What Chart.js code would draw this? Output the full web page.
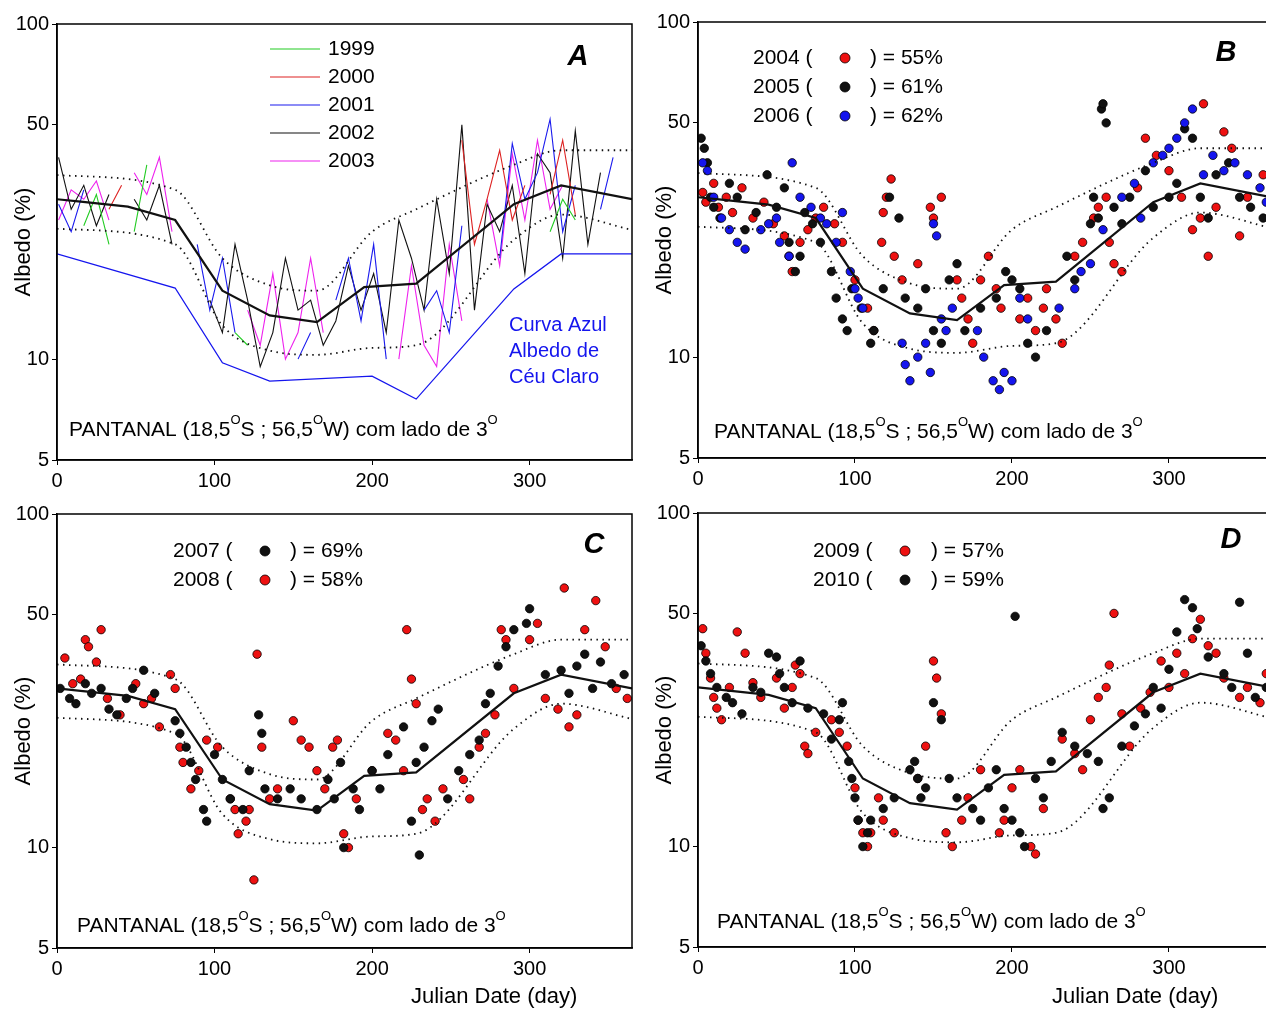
<!DOCTYPE html>
<html>
<head>
<meta charset="utf-8">
<script src="https://cdn.jsdelivr.net/npm/chart.js@4/dist/chart.umd.min.js"></script>
<style>
 body {margin:0; background:#fff; width:1266px; height:1012px; overflow:hidden; position:relative;}
 .panel {position:absolute;}
</style>
</head>
<body>
<div class="panel" style="left:0px;top:0px;width:640px;height:500px"><canvas id="pa"></canvas></div>
<div class="panel" style="left:641px;top:0px;width:640px;height:498px"><canvas id="pb"></canvas></div>
<div class="panel" style="left:0px;top:490px;width:640px;height:522px"><canvas id="pc"></canvas></div>
<div class="panel" style="left:641px;top:490px;width:640px;height:522px"><canvas id="pd"></canvas></div>
<script>
// ------------------------------------------------------------------ DATA

var days8   = [1,9,17,25,33,41,49,57,65,73,81,89,97,105,113,121,129,137,145,153,161,169,177,185,193,201,209,217,225,233,241,249,257,265,273,281,289,297,305,313,321,329,337,345,353,361];

var meanX   = [0,15,45,75,105,135,165,195,228,290,320,365];
var meanY   = [30,29.5,28.5,26,16,13.5,12.9,16.4,16.8,29,33,30];
var upperX  = [0,75,105,135,165,200,228,290,320,365];
var upperY  = [35.4,32,20,16.6,16,24,28,38,42,42];
var lowerX  = [0,75,105,135,165,200,228,290,320,365];
var lowerY  = [24.5,22,12.6,10.6,10.3,10.8,11,22.7,27,24.3];
var clearX  = [0,75,105,135,200,228,290,320,365];
var clearY  = [20.6,16.3,9.75,8.6,8.9,7.6,16.2,20.6,20.6];

var y1999 = [27,null,25,31,22,null,24,38,null,30,null,null,null,null,12,11,null,null,null,null,null,null,null,null,null,null,null,null,11,null,null,null,null,null,null,null,null,null,null,24,30,26,null,null,null,null];
var y2000 = [null,null,null,null,28,33,null,null,null,null,null,null,null,null,null,null,null,null,null,null,null,21,null,null,null,null,null,null,null,null,null,null,45,22,30,42,26,33,null,31,45,27,null,32,null,null];
var y2001 = [29,24,32,null,null,null,null,null,27,null,null,22,14,20,12,null,13,null,null,10,12,null,15,20,13,22,10,null,null,14,16,12,25,null,null,20,44,30,36,52,24,33,null,28,40,null];
var y2002 = [40,28,33,25,31,null,30,26,33,22,null,null,15,12,22,15,9.5,12,20,14,15,11,13,19,14,18,12,26,20,14,30,18,50,14,29,24,33,18,41,36,20,48,22,36,null,30];
var y2003 = [26,32,30,34,26,null,36,31,40,24,null,null,null,null,null,14,11,18,10,12,20,12,null,null,null,14,null,10,19,11,9.5,22,13,null,30,19,41,26,45,28,33,null,null,null,36,null];

var s2004 = [[3,31],[5,29],[10,33],[13,28],[18,30],[22,27],[28,32],[35,26],[42,29],[48,25],[55,23],[58,20],[60,18],[65,22],[70,24],[75,26],[80,28],[87,25],[92,22],[100,17],[108,14],[112,12],[117,22],[118,27],[120,30],[123,34],[125,20],[130,17],[140,19],[148,28],[150,26],[155,30],[165,17],[168,15],[172,13],[175,11],[180,17],[185,20],[190,16],[193,14],[205,13],[210,15],[215,12],[220,14],[222,16],[228,13],[232,11],[240,20],[245,22],[252,26],[255,28],[260,30],[262,22],[265,19],[270,18],[280,32],[285,45],[292,40],[300,36],[308,30],[315,24],[320,26],[322,57],[325,20],[330,28],[335,47],[340,42],[345,23],[350,30],[360,35]];
var s2005 = [[2,45],[4,42],[6,38],[8,30],[10,28],[14,26],[20,33],[25,30],[30,24],[37,27],[44,35],[50,28],[55,32],[58,22],[62,18],[65,20],[68,27],[73,25],[78,22],[85,18],[88,15],[92,13],[95,12],[98,16],[104,14],[110,11],[112,12],[118,16],[122,30],[128,26],[132,15],[140,14],[145,16],[150,12],[155,11],[160,17],[165,19],[170,12],[180,14],[190,15],[196,18],[200,17],[205,16],[210,11],[215,10],[222,12],[235,20],[240,17],[250,25],[252,30],[255,26],[257,55],[258,57],[260,50],[265,28],[270,25],[275,30],[285,36],[290,28],[300,30],[305,33],[310,48],[315,45],[320,30],[325,26],[330,35],[338,38],[345,30],[352,28],[360,26]];
var s2006 = [[3,38],[6,36],[10,30],[15,26],[20,24],[25,22],[30,21],[40,24],[45,25],[50,26],[52,22],[58,20],[60,38],[65,30],[72,28],[78,26],[82,25],[88,22],[92,27],[97,18],[100,16],[102,15],[105,14],[130,11],[132,9.5],[135,8.5],[140,10],[145,11],[148,9],[150,25],[152,23],[155,13],[158,12],[162,14],[178,12],[182,10],[188,8.5],[192,8],[195,9],[200,8.5],[205,15],[210,13],[230,14],[240,16],[244,18],[250,19],[258,24],[270,30],[278,33],[282,26],[290,38],[296,40],[300,42],[305,45],[310,50],[315,55],[322,35],[328,40],[335,36],[342,38],[350,35],[358,32],[362,29]];
var s2007 = [[2,30],[8,28],[12,27],[18,31],[22,29],[28,30],[33,26],[38,25],[44,28],[48,30],[55,34],[62,29],[75,24],[78,22],[82,20],[85,18],[88,16],[93,13],[95,12],[100,19],[105,16],[110,14],[118,13],[122,17],[128,25],[130,22],[132,15],[140,14],[148,15],[155,14],[165,13],[172,16],[176,14],[180,18],[182,10],[188,15],[192,13],[200,17],[205,15],[210,19],[220,23],[225,12],[228,18],[230,9.5],[233,20],[238,24],[242,26],[248,14],[255,17],[262,19],[268,21],[272,27],[275,29],[280,35],[285,40],[290,45],[298,47],[300,52],[310,33],[320,34],[325,29],[330,35],[335,38],[340,30],[345,36],[352,31],[360,33]];
var s2008 = [[5,37],[10,31],[15,32],[18,42],[20,40],[25,36],[28,45],[32,28],[40,25],[50,31],[55,27],[60,28],[65,23],[72,33],[75,30],[78,20],[80,18],[85,15],[90,17],[95,21],[102,20],[110,14],[113,13],[115,11],[120,12],[122,13],[125,8],[127,38],[130,20],[135,14],[140,15],[150,24],[155,21],[160,20],[165,17],[170,15],[175,20],[178,21],[182,11],[185,10],[190,14],[200,17],[210,22],[215,21],[220,17],[222,45],[225,32],[228,27],[232,13],[235,14],[240,12],[245,15],[258,16],[262,14],[268,20],[272,22],[278,25],[282,45],[285,42],[290,30],[300,42],[305,47],[310,28],[318,26],[322,60],[325,23],[330,25],[335,45],[342,55],[348,40],[355,30],[362,28]];
var s2009 = [[3,45],[5,38],[8,32],[10,28],[12,26],[15,24],[20,30],[25,44],[30,38],[35,31],[40,28],[50,32],[55,26],[60,30],[62,35],[65,33],[68,20],[70,19],[75,22],[85,24],[90,22],[95,20],[100,15],[102,12],[105,11],[108,10],[110,11],[115,14],[118,12],[125,11],[140,16],[145,20],[150,36],[152,32],[155,25],[158,11],[162,10],[168,12],[172,14],[180,17],[192,11],[195,12],[200,15],[205,17],[212,10],[215,9.5],[220,13],[232,21],[240,19],[245,17],[250,24],[255,28],[260,30],[262,35],[265,50],[270,25],[275,20],[282,26],[288,29],[295,36],[300,30],[305,38],[310,33],[315,42],[320,48],[325,40],[330,38],[335,32],[345,28],[350,30],[358,27],[362,33]];
var s2010 = [[2,40],[5,36],[8,33],[12,30],[18,28],[22,27],[28,25],[35,30],[40,29],[45,38],[50,37],[52,33],[55,30],[60,27],[65,36],[70,26],[80,25],[85,21],[90,24],[92,27],[96,18],[98,16],[100,14],[102,12],[105,10],[108,11],[110,12],[118,13],[125,14],[135,17],[138,18],[140,16],[142,14],[145,15],[150,27],[155,24],[160,16],[165,14],[175,13],[180,12],[185,15],[190,17],[195,13],[200,12],[202,49],[205,11],[208,10],[215,16],[220,14],[225,18],[232,22],[240,20],[248,19],[255,18],[258,13],[262,14],[270,20],[278,23],[285,25],[290,30],[295,26],[300,34],[305,44],[310,55],[315,52],[318,45],[325,37],[335,33],[340,30],[345,54],[350,38],[355,28],[362,30]];

var yTicks = [5,10,50,100];
var xTicks = [0,100,200,300];

// ------------------------------------------------------------------ HELPERS

var FONT = "'Liberation Sans', Arial, sans-serif";
var RED  = "#ee1111";
var BLUE = "#1515ee";

function Pairs(xs, ys)
{
 return xs.map(function(x, i) { return {x:x, y:ys[i]}; });
}

function Points(list)
{
 return list.map(function(p) { return {x:p[0], y:p[1]}; });
}

function Curves(withClear)
{
 var sets = [];
 sets.push({type:"line", data:Pairs(meanX, meanY),   borderColor:"#111", borderWidth:2.2, pointRadius:0, order:0});
 sets.push({type:"line", data:Pairs(upperX, upperY), borderColor:"#111", borderWidth:1.8, borderDash:[1.5,4.5], pointRadius:0, cubicInterpolationMode:"monotone", order:0});
 sets.push({type:"line", data:Pairs(lowerX, lowerY), borderColor:"#111", borderWidth:1.8, borderDash:[1.5,4.5], pointRadius:0, cubicInterpolationMode:"monotone", order:0});
 if(withClear) sets.push({type:"line", data:Pairs(clearX, clearY), borderColor:BLUE, borderWidth:1.3, pointRadius:0, order:0});
 return sets;
}

function Dots(list, color)
{
 return {type:"scatter", data:Points(list), backgroundColor:color, borderColor:"#000", borderWidth:0.8, pointRadius:4.2, order:1};
}

function YearLine(values, color)
{
 return {type:"line", data:Pairs(days8, values), borderColor:color, borderWidth:1.1, pointRadius:0, spanGaps:false, order:1};
}

function SupText(ctx, x, y, parts)
{
 // parts: alternate normal / superscript strings
 for(var i = 0; i < parts.length; i++)
 {
  if(i % 2 == 0) { ctx.font = "21px " + FONT; ctx.fillText(parts[i], x, y); }
  else           { ctx.font = "13px " + FONT; ctx.fillText(parts[i], x, y - 10); }
  x += ctx.measureText(parts[i]).width;
 }
}

var annotate =
{
 id: "annotate",
 afterDraw: function(chart, args, opts)
 {
  var ctx  = chart.ctx;
  var area = chart.chartArea;
  var ox   = opts.ox, oy = opts.oy;
  ctx.save();

  // frame
  ctx.strokeStyle = "#000";
  ctx.lineWidth   = 1.5;
  ctx.strokeRect(area.left, area.top, area.right - area.left, area.bottom - area.top);

  ctx.textBaseline = "middle";
  ctx.fillStyle    = "#000";

  // panel letter
  ctx.font      = "italic bold 29px " + FONT;
  ctx.textAlign = "center";
  ctx.fillText(opts.letter[0], opts.letter[1] - ox, opts.letter[2] - oy);

  ctx.textAlign = "left";

  // line legend (panel A)
  for(var item of (opts.lines || []))
  {
   ctx.strokeStyle = item.color;
   ctx.lineWidth   = 1.2;
   ctx.beginPath();
   ctx.moveTo(270 - ox, item.y - oy);
   ctx.lineTo(320 - ox, item.y - oy);
   ctx.stroke();
   ctx.font = "21px " + FONT;
   ctx.fillStyle = "#000";
   ctx.fillText(item.text, 328 - ox, item.y - oy);
  }

  // dot legend
  for(var item of (opts.dots || []))
  {
   ctx.font = "21px " + FONT;
   ctx.fillStyle = "#000";
   ctx.fillText(item.left, item.x - ox, item.y - oy);
   ctx.beginPath();
   ctx.arc(item.cx - ox, item.y - oy, 5, 0, Math.PI * 2);
   ctx.fillStyle = item.color;
   ctx.fill();
   ctx.strokeStyle = "#000";
   ctx.lineWidth = 0.8;
   ctx.stroke();
   ctx.fillStyle = "#000";
   ctx.fillText(item.right, item.rx - ox, item.y - oy);
  }

  // blue note
  if(opts.note)
  {
   ctx.font = "20px " + FONT;
   ctx.fillStyle = BLUE;
   ctx.fillText("Curva Azul",   509 - ox, 325 - oy);
   ctx.fillText("Albedo de",    509 - ox, 351 - oy);
   ctx.fillText("Céu Claro",    509 - ox, 377 - oy);
   ctx.fillStyle = "#000";
  }

  // site
  SupText(ctx, opts.site[0] - ox, opts.site[1] - oy, ["PANTANAL (18,5", "O", "S ; 56,5", "O", "W) com lado de 3", "O"]);

  // x title
  if(opts.xtitle)
  {
   ctx.font = "22px " + FONT;
   ctx.fillText("Julian Date (day)", opts.xtitle[0] - ox, opts.xtitle[1] - oy);
  }
  ctx.restore();
 }
};

function Panel(id, datasets, pad, xh, opts)
{
 var config =
 {
  data:    {datasets:datasets},
  plugins: [annotate],
  options:
  {
   responsive: true,
   maintainAspectRatio: false,
   animation: false,
   layout: {padding:{top:pad[0], right:pad[1], left:0, bottom:0}},
   scales:
   {
    x:
    {
     type:"linear", min:0, max:365,
     afterBuildTicks: function(s) { s.ticks = xTicks.map(function(v) { return {value:v}; }); },
     afterFit: function(s) { s.height = xh; },
     grid: {drawOnChartArea:false, tickLength:5, color:"#000"},
     border: {color:"#000", width:1.5},
     ticks: {color:"#000", font:{size:20, family:FONT}, padding:4}
    },
    y:
    {
     type:"logarithmic", min:5, max:100,
     afterBuildTicks: function(s) { s.ticks = yTicks.map(function(v) { return {value:v}; }); },
     afterFit: function(s) { s.width = 57; },
     grid: {drawOnChartArea:false, tickLength:5, color:"#000"},
     border: {color:"#000", width:1.5},
     ticks: {color:"#000", font:{size:20, family:FONT}, padding:3, callback: function(v) { return String(v); }},
     title: {display:true, text:"Albedo (%)", color:"#000", font:{size:22, family:FONT}, padding:{top:11, bottom:0}}
    }
   },
   plugins: {legend:{display:false}, tooltip:{enabled:false}, annotate:opts}
  }
 };
 return new Chart(document.getElementById(id), config);
}

// ------------------------------------------------------------------ PANELS

Panel("pa",
 [YearLine(y1999, "#22cc22"), YearLine(y2000, "#dd2222"), YearLine(y2001, "#1a1aee"), YearLine(y2002, "#111"), YearLine(y2003, "#ee22ee")].concat(Curves(true)),
 [24, 8], 40,
 {ox:0, oy:0, letter:["A", 578, 57], note:true, site:[69, 430],
  lines:[{text:"1999", color:"#22cc22", y:49}, {text:"2000", color:"#dd2222", y:77}, {text:"2001", color:"#1a1aee", y:105}, {text:"2002", color:"#111", y:133}, {text:"2003", color:"#ee22ee", y:161}]});

Panel("pb",
 [Dots(s2006, BLUE), Dots(s2005, "#111"), Dots(s2004, RED)].concat(Curves(false)),
 [22, 10], 40,
 {ox:641, oy:0, letter:["B", 1226, 53], site:[714, 432],
  dots:[{left:"2004 (", cx:845, right:") = 55%", x:753, rx:870, y:58, color:RED},
        {left:"2005 (", cx:845, right:") = 61%", x:753, rx:870, y:87, color:"#111"},
        {left:"2006 (", cx:845, right:") = 62%", x:753, rx:870, y:116, color:BLUE}]});

Panel("pc",
 [Dots(s2007, "#111"), Dots(s2008, RED)].concat(Curves(false)),
 [24, 8], 64,
 {ox:0, oy:490, letter:["C", 594, 545], site:[77, 926], xtitle:[411, 997],
  dots:[{left:"2007 (", cx:265, right:") = 69%", x:173, rx:290, y:551, color:"#111"},
        {left:"2008 (", cx:265, right:") = 58%", x:173, rx:290, y:580, color:RED}]});

Panel("pd",
 [Dots(s2010, "#111"), Dots(s2009, RED)].concat(Curves(false)),
 [23, 10], 65,
 {ox:641, oy:490, letter:["D", 1231, 540], site:[717, 922], xtitle:[1052, 997],
  dots:[{left:"2009 (", cx:905, right:") = 57%", x:813, rx:931, y:551, color:RED},
        {left:"2010 (", cx:905, right:") = 59%", x:813, rx:931, y:580, color:"#111"}]});
</script>
</body>
</html>
